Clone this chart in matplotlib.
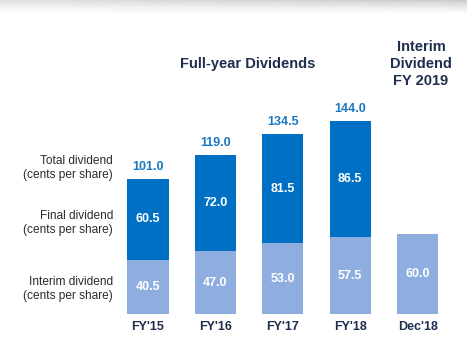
import matplotlib
matplotlib.use("Agg")
import matplotlib.pyplot as plt
import numpy as np

plt.rcParams['font.family'] = ['Liberation Sans', 'DejaVu Sans']

categories = ["FY'15", "FY'16", "FY'17", "FY'18", "Dec'18"]
interim = [40.5, 47.0, 53.0, 57.5, 60.0]
final = [60.5, 72.0, 81.5, 86.5, None]
totals = [101.0, 119.0, 134.5, 144.0, None]
row_labels = ["Total dividend\n(cents per share)",
              "Final dividend\n(cents per share)",
              "Interim dividend\n(cents per share)"]

W, H = 467, 352
fig = plt.figure(figsize=(W / 100, H / 100), dpi=100)
fig.patch.set_facecolor('white')

# top shadow
sh = fig.add_axes([0, 1 - 14 / H, 1, 14 / H])
grad = np.linspace(0.0, 1.0, 50).reshape(-1, 1) ** 0.7
xg = np.linspace(0.6, 1.0, 200).reshape(1, -1)
img = 1.0 - (1.0 - grad) * 0.22 * xg
sh.imshow(img, aspect='auto', cmap='gray', vmin=0.0, vmax=1.0,
          extent=[0, 1, 0, 1], origin='upper')
sh.axis('off')

ax = fig.add_axes([0, 0, 1, 1 - 14 / H])
ax.patch.set_alpha(0)
x0, dx = 148.0, 67.4
ppu = 1.337
base = 314.0
top_px = 14.0
ax.set_xlim((0 - x0) / dx, (W - x0) / dx)
ax.set_ylim(-(H - base) / ppu, (base - top_px) / ppu)
ax.axis('off')

x = np.arange(len(categories))
light = '#8DAEDF'
dark = '#0070C4'
ax.bar(x, interim, width=0.61, color=light, edgecolor='none')
fin = [f if f is not None else 0 for f in final]
ax.bar(x[:4], fin[:4], bottom=interim[:4], width=0.61, color=dark, edgecolor='none')

for i in range(len(categories)):
    ax.text(x[i], interim[i] / 2, f"{interim[i]:.1f}", ha='center', va='center',
            color='white', fontsize=9, fontweight='bold')
    if final[i] is not None:
        ax.text(x[i], interim[i] + final[i] / 2, f"{final[i]:.1f}", ha='center',
                va='center', color='white', fontsize=9, fontweight='bold')
        ax.text(x[i], totals[i] + 9, f"{totals[i]:.1f}", ha='center', va='center',
                color='#1A78C2', fontsize=9, fontweight='bold')
    ax.text(x[i], -10, categories[i], ha='center', va='center',
            color='#1F2D4E', fontsize=9, fontweight='bold')

# row labels (right aligned)
lx = (113 - x0) / dx
for lab, py in zip(row_labels, [168, 223, 289]):
    ax.text(lx, (base - py) / ppu, lab, ha='right', va='center',
            color='#2B2B2B', fontsize=8.6, linespacing=1.2)

ax.text((248 - x0) / dx, (base - 64) / ppu, "Full-year Dividends", ha='center',
        va='center', color='#1F2D4E', fontsize=10.5, fontweight='bold')
ax.text((421 - x0) / dx, (base - 64) / ppu, "Interim\nDividend\nFY 2019", ha='center',
        va='center', color='#1F2D4E', fontsize=10.5, fontweight='bold', linespacing=1.25)

fig.savefig('out.png', dpi=100)
